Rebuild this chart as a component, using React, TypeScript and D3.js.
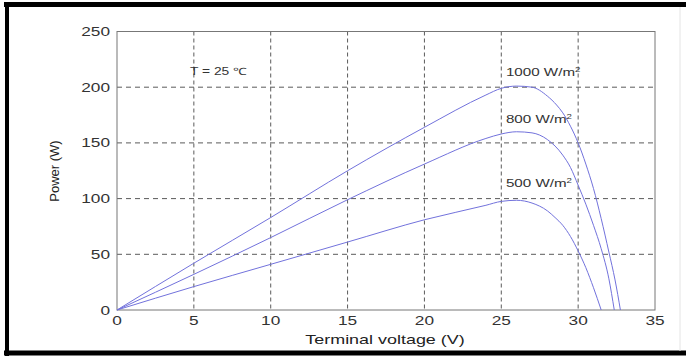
import React from "react";
import * as d3 from "d3";

const xTicks = [0, 5, 10, 15, 20, 25, 30, 35];
const yTicks = [0, 50, 100, 150, 200, 250];

const voltage1000 = [0, 5, 10, 15, 20, 24, 25, 26, 27, 28, 28.6, 29, 29.5, 30, 30.5, 31, 31.5, 32, 32.4, 32.75];
const power1000 = [0, 42, 83, 125, 164, 193, 199, 201, 200, 192, 184, 177, 165, 150, 131, 109, 82, 52, 27, 0];

const voltage800 = [0, 5, 10, 15, 20, 24, 25, 26, 27, 28, 29, 29.5, 30, 30.5, 31, 31.5, 32, 32.35];
const power800 = [0, 32, 65, 99, 131, 154, 158, 160, 159, 153, 139, 128, 112, 95, 76, 55, 28, 0];

const voltage500 = [0, 5, 10, 15, 20, 24, 25, 26, 27, 28, 28.5, 29, 29.5, 30, 30.5, 31, 31.5];
const power500 = [0, 21, 41, 61, 81, 94, 97.5, 98.5, 96, 89, 83, 76, 66, 53, 38, 20, 0];

const seriesLabels = ["1000 W/m", "800 W/m", "500 W/m"];
const labelVoltage = [25.3, 25.3, 25.3];
const labelPower = [210, 168, 110];

const W = 686;
const H = 358;
const L = 117, R = 655, T = 31.5, B = 310;
const SX = 1.38;
const FONT = "'Liberation Sans', Arial, sans-serif";

export default function App() {
  const x = d3.scaleLinear().domain([0, 35]).range([L, R]);
  const y = d3.scaleLinear().domain([0, 250]).range([B, T]);
  const line = d3
    .line<[number, number]>()
    .x((d) => x(d[0]))
    .y((d) => y(d[1]))
    .curve(d3.curveMonotoneX);

  const series = [
    voltage1000.map((v, i) => [v, power1000[i]] as [number, number]),
    voltage800.map((v, i) => [v, power800[i]] as [number, number]),
    voltage500.map((v, i) => [v, power500[i]] as [number, number]),
  ];

  const stretched = (tx: number, ty: number, content: React.ReactNode, props: any = {}) => (
    <g transform={`translate(${tx},${ty}) scale(${SX},1)`}>
      <text x={0} y={0} fontFamily={FONT} {...props}>
        {content}
      </text>
    </g>
  );

  return (
    <svg
      width={W}
      height={H}
      style={{ position: "absolute", left: 0, top: 0, background: "#fff" }}
    >
      {/* frame */}
      <line x1={4} x2={W} y1={4.5} y2={4.5} stroke="#000" strokeWidth={5} />
      <line x1={7} x2={7} y1={2} y2={356} stroke="#000" strokeWidth={4} />
      <line x1={4} x2={W} y1={353} y2={353} stroke="#000" strokeWidth={5} />
      <line x1={680} x2={680} y1={7} y2={351} stroke="#e4e4e4" strokeWidth={1} />

      {/* grid */}
      {xTicks.slice(1, -1).map((t) => (
        <line
          key={"gx" + t}
          x1={x(t)}
          x2={x(t)}
          y1={T}
          y2={B}
          stroke="#333"
          strokeWidth={1}
          strokeDasharray="4,3"
          opacity={0.8}
        />
      ))}
      {yTicks.slice(1, -1).map((t) => (
        <line
          key={"gy" + t}
          x1={L}
          x2={R}
          y1={y(t)}
          y2={y(t)}
          stroke="#333"
          strokeWidth={1}
          strokeDasharray="5,4"
          opacity={0.8}
        />
      ))}

      {/* axes box */}
      <rect x={L} y={T} width={R - L} height={B - T} fill="none" stroke="#777" strokeWidth={1} />

      {/* curves */}
      {series.map((s, i) => (
        <path key={"s" + i} d={line(s) || ""} fill="none" stroke="#7272dc" strokeWidth={1} />
      ))}

      {/* tick labels */}
      {xTicks.map((t) =>
        <g key={"xt" + t}>
          {stretched(x(t), 325, String(t), { fontSize: 12.5, textAnchor: "middle", fill: "#333" })}
        </g>
      )}
      {yTicks.map((t) =>
        <g key={"yt" + t}>
          {stretched(110, y(t) + 4.5, String(t), { fontSize: 12.5, textAnchor: "end", fill: "#333" })}
        </g>
      )}

      {/* axis labels */}
      {stretched(385, 344, "Terminal voltage (V)", { fontSize: 13, textAnchor: "middle", fill: "#222" })}
      <g transform="translate(59,171) rotate(-90) scale(1,1)">
        <text x={0} y={0} fontFamily={FONT} fontSize={13} textAnchor="middle" fill="#222">
          Power (W)
        </text>
      </g>

      {/* annotations */}
      {stretched(190, 75, "T = 25 \u2103", { fontSize: 10, fill: "#333" })}
      {seriesLabels.map((lab, i) => (
        <g key={"lab" + i}>
          {stretched(
            x(labelVoltage[i]),
            y(labelPower[i]),
            <>
              {lab}
              <tspan fontSize={7} dy={-4}>2</tspan>
            </>,
            { fontSize: 11, fill: "#333" }
          )}
        </g>
      ))}
    </svg>
  );
}
